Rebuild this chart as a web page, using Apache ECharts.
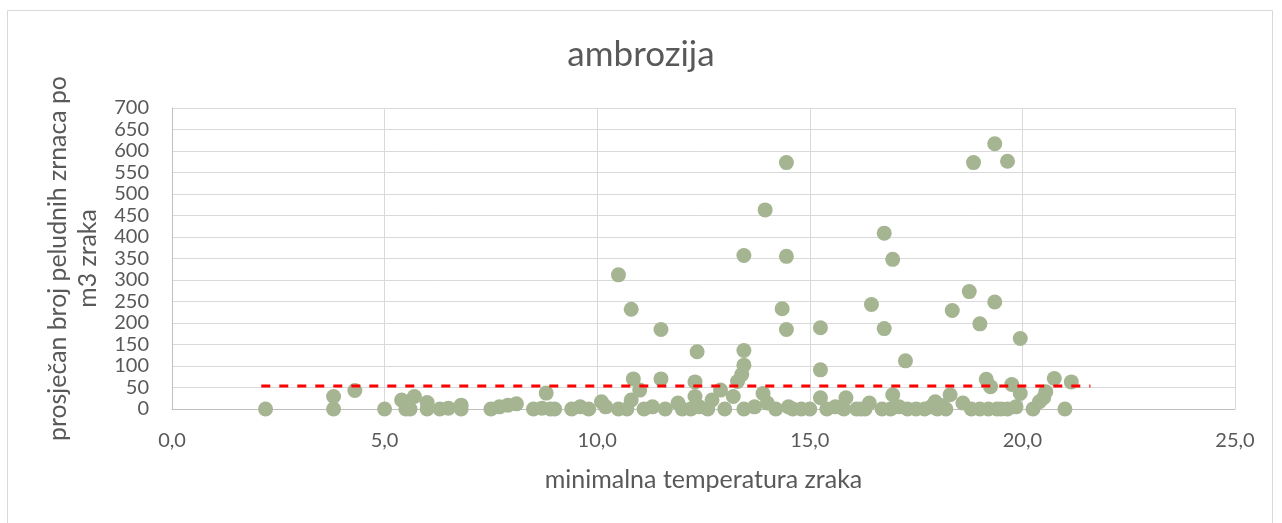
<!DOCTYPE html>
<html>
<head>
<meta charset="utf-8">
<script src="https://cdn.jsdelivr.net/npm/echarts@6/dist/echarts.min.js"></script>
<style>
html,body{margin:0;padding:0;background:#fff;}
#chart{width:1282px;height:523px;}
</style>
</head>
<body>
<div id="chart"></div>
<script>
var chartTitle = 'ambrozija';
var xAxisName = 'minimalna temperatura zraka';
var yAxisName = 'prosječan broj peludnih zrnaca po\nm3 zraka';

// minimum air temperature (°C)
var temps = [2.2,3.8,3.8,4.3,5.0,5.4,5.5,5.6,5.7,6.0,6.0,6.3,6.5,6.8,6.8,7.5,7.7,7.9,8.1,8.5,8.7,8.8,8.9,9.0,9.4,9.6,9.8,10.1,10.2,10.5,
10.5,10.7,10.8,10.8,10.85,11.0,11.1,11.3,11.5,11.5,11.6,11.9,12.0,12.2,12.3,12.3,12.35,12.4,12.6,12.7,12.9,13.0,13.2,13.3,13.4,13.45,13.45,13.45,13.45,13.7,
13.9,13.95,14.0,14.2,14.35,14.45,14.45,14.45,14.5,14.6,14.8,15.0,15.25,15.25,15.25,15.4,15.6,15.8,15.85,16.1,16.2,16.3,16.4,16.45,16.7,16.75,16.75,16.9,16.95,16.95,
17.1,17.25,17.3,17.5,17.7,17.85,17.95,18.0,18.1,18.2,18.3,18.35,18.6,18.75,18.8,18.85,19.0,19.0,19.15,19.2,19.25,19.35,19.35,19.4,19.5,19.65,19.65,19.75,19.85,19.95,
19.95,20.25,20.4,20.5,20.55,20.75,21.0,21.15];
// average pollen grains per m3 of air
var pollen = [0,29,0,43,0,21,0,0,29,15,0,0,2,9,0,0,5,9,12,0,2,37,0,0,0,5,0,17,5,0,
312,0,21,232,70,44,0,5,185,70,0,14,0,0,63,29,133,5,0,21,44,0,29,64,80,102,136,357,0,5,
36,463,14,0,233,573,355,185,5,0,0,0,189,91,26,0,5,0,26,0,0,0,14,243,0,409,187,0,348,33,
5,112,0,0,0,5,17,0,8,0,33,229,14,273,0,573,198,0,69,0,52,617,249,0,0,576,0,57,5,164,
36,0,17,26,40,71,0,63];

// threshold (dashed red line)
var thresholdX = [2.1, 21.6];
var thresholdY = [53.5, 53.5];

var xTicks = {min: 0, max: 25, interval: 5};
var yTicks = {min: 0, max: 700, interval: 50};

var points = temps.map(function (t, i) { return [t, pollen[i]]; });
var threshold = thresholdX.map(function (x, i) { return [x, thresholdY[i]]; });

var FONT = 'Lato';
var TXT = '#595959';

var chart = echarts.init(document.getElementById('chart'), null, {renderer: 'canvas'});
chart.setOption({
  animation: false,
  backgroundColor: '#ffffff',
  title: {
    text: chartTitle,
    left: 'center',
    top: 32,
    textStyle: {fontFamily: FONT, fontSize: 35, fontWeight: 'normal', color: TXT}
  },
  graphic: [{
    type: 'rect',
    shape: {x: 7.5, y: 10.5, width: 1265, height: 530},
    style: {fill: 'none', stroke: '#d9d9d9', lineWidth: 1},
    silent: true
  }],
  grid: {left: 172, right: 47, top: 108, bottom: 114, containLabel: false},
  xAxis: {
    type: 'value',
    min: xTicks.min, max: xTicks.max, interval: xTicks.interval,
    name: xAxisName,
    nameLocation: 'middle',
    nameGap: 58,
    nameTextStyle: {fontFamily: FONT, fontSize: 25, color: TXT},
    axisLine: {show: true, lineStyle: {color: '#bfbfbf', width: 1}},
    axisTick: {show: false},
    axisLabel: {
      margin: 22, fontFamily: FONT, fontSize: 20, color: TXT,
      formatter: function (v) { return v.toFixed(1).replace('.', ','); }
    },
    splitLine: {show: true, lineStyle: {color: '#d9d9d9', width: 1}}
  },
  yAxis: {
    type: 'value',
    min: yTicks.min, max: yTicks.max, interval: yTicks.interval,
    name: yAxisName,
    nameLocation: 'middle',
    nameGap: 68,
    nameTextStyle: {fontFamily: FONT, fontSize: 24.8, color: TXT, lineHeight: 30},
    axisLine: {show: true, lineStyle: {color: '#bfbfbf', width: 1}},
    axisTick: {show: false},
    axisLabel: {margin: 23, fontFamily: FONT, fontSize: 20, color: TXT},
    splitLine: {show: true, lineStyle: {color: '#d9d9d9', width: 1}}
  },
  series: [{
    type: 'scatter',
    data: points,
    symbol: 'circle',
    symbolSize: 15,
    itemStyle: {color: '#a5b592', opacity: 1},
    z: 3
  }, {
    type: 'line',
    data: threshold,
    symbol: 'none',
    lineStyle: {color: '#ff0000', width: 3, type: [9, 9]},
    z: 4
  }]
});
</script>
</body>
</html>
